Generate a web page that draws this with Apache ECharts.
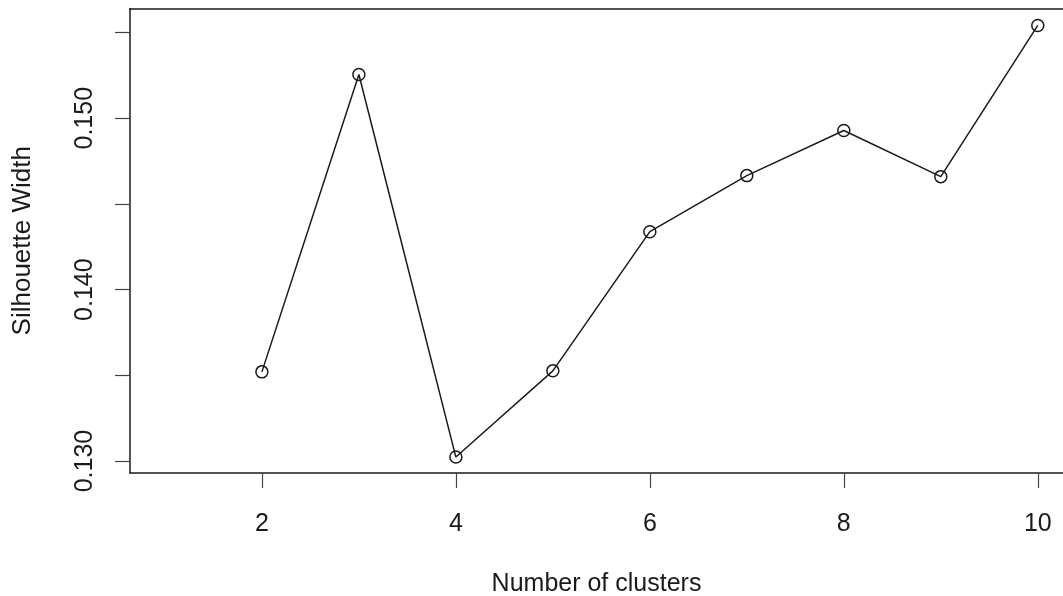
<!DOCTYPE html>
<html>
<head>
<meta charset="utf-8">
<script src="https://cdn.jsdelivr.net/npm/echarts@6/dist/echarts.min.js"></script>
<style>
  html, body { margin: 0; padding: 0; background: #fff; }
  #chart { width: 1063px; height: 596px; }
</style>
</head>
<body>
<div id="chart"></div>
<script>
var clusters = [2, 3, 4, 5, 6, 7, 8, 9, 10];
var silhouette = [0.13520, 0.15255, 0.13023, 0.13526, 0.14338, 0.14665, 0.14928, 0.14659, 0.15541];
var xTickValues = [2, 4, 6, 8, 10];
var yTickValues = [0.130, 0.135, 0.140, 0.145, 0.150, 0.155];
var yLabelValues = [0.130, 0.140, 0.150];
var xTitle = 'Number of clusters';
var yTitle = 'Silhouette Width';

var font = 'Liberation Sans, Arial, Helvetica, sans-serif';
var ink = '#1a1a1a';

var chart = echarts.init(document.getElementById('chart'), null, { renderer: 'canvas' });
var points = clusters.map(function (c, i) { return [c, silhouette[i]]; });

chart.setOption({
  animation: false,
  backgroundColor: '#ffffff',
  grid: { left: 130, top: 8.5, right: 0, bottom: 123, containLabel: false, outerBoundsMode: 'none' },
  xAxis: [{
    type: 'value',
    min: 0.64,
    max: 10.26,
    position: 'bottom',
    splitLine: { show: false },
    axisLine: { show: true, onZero: false, lineStyle: { color: ink, width: 1.5 } },
    axisTick: { show: true, inside: false, length: 15, customValues: xTickValues, lineStyle: { color: '#444', width: 1.2 } },
    axisLabel: { show: true, customValues: xTickValues, margin: 39, color: ink, fontSize: 25, fontFamily: font },
    name: xTitle,
    nameLocation: 'middle',
    nameGap: 99,
    nameTextStyle: { color: ink, fontSize: 25, fontFamily: font }
  }, {
    type: 'value',
    min: 0.64,
    max: 10.26,
    position: 'top',
    splitLine: { show: false },
    axisLine: { show: true, onZero: false, lineStyle: { color: ink, width: 1.5 } },
    axisTick: { show: false },
    axisLabel: { show: false }
  }],
  yAxis: {
    type: 'value',
    min: 0.1293,
    max: 0.1564,
    splitLine: { show: false },
    axisLine: { show: true, onZero: false, lineStyle: { color: ink, width: 1.5 } },
    axisTick: { show: true, inside: false, length: 15, customValues: yTickValues, lineStyle: { color: '#444', width: 1.2 } },
    axisLabel: {
      show: true, customValues: yLabelValues, rotate: 90, margin: 32,
      color: ink, fontSize: 25, fontFamily: font,
      formatter: function (v) { return v.toFixed(3); }
    },
    name: yTitle,
    nameLocation: 'middle',
    nameGap: 94,
    nameTextStyle: { color: ink, fontSize: 26, fontFamily: font }
  },
  series: [{
    type: 'line',
    xAxisIndex: 0,
    data: points,
    symbol: 'circle',
    symbolSize: 12,
    showAllSymbol: true,
    lineStyle: { color: ink, width: 1.5 },
    itemStyle: { color: 'rgba(0,0,0,0)', borderColor: ink, borderWidth: 1.5 },
    emphasis: { disabled: true }
  }]
});
</script>
</body>
</html>
